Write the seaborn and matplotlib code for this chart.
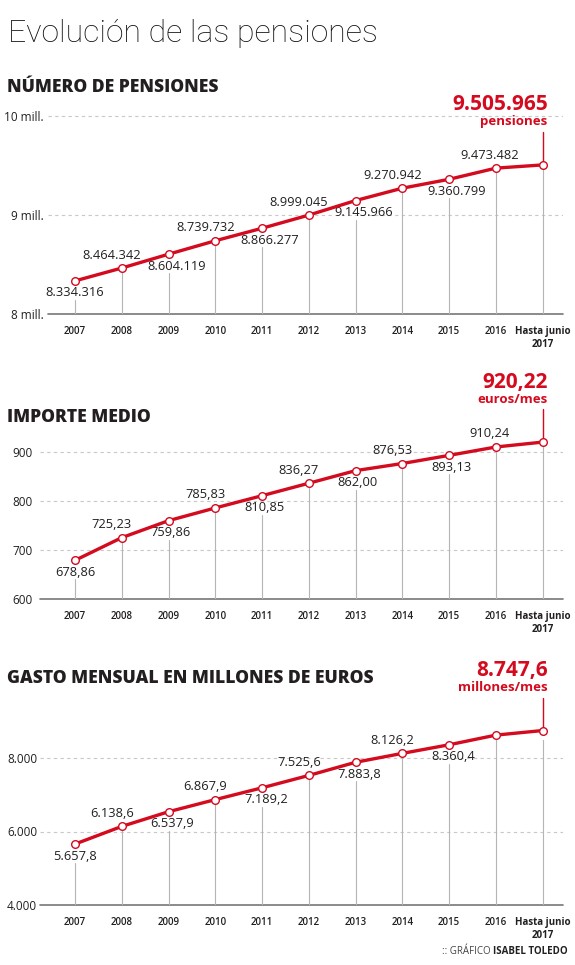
import numpy as np
import pandas as pd
import seaborn as sns
import matplotlib.pyplot as plt

# ---- datos ----
years = ["2007", "2008", "2009", "2010", "2011", "2012", "2013", "2014", "2015", "2016", "Hasta junio\n2017"]

pensiones = [8334316, 8464342, 8604119, 8739732, 8866277, 8999045, 9145966, 9270942, 9360799, 9473482, 9505965]
pensiones_lbl = ["8.334.316", "8.464.342", "8.604.119", "8.739.732", "8.866.277", "8.999.045",
                 "9.145.966", "9.270.942", "9.360.799", "9.473.482", "9.505.965"]

importe = [678.86, 725.23, 759.86, 785.83, 810.85, 836.27, 862.00, 876.53, 893.13, 910.24, 920.22]
importe_lbl = ["678,86", "725,23", "759,86", "785,83", "810,85", "836,27",
               "862,00", "876,53", "893,13", "910,24", "920,22"]

gasto = [5657.8, 6138.6, 6537.9, 6867.9, 7189.2, 7525.6, 7883.8, 8126.2, 8360.4, 8623.2, 8747.6]
gasto_lbl = ["5.657,8", "6.138,6", "6.537,9", "6.867,9", "7.189,2", "7.525,6",
             "7.883,8", "8.126,2", "8.360,4", "8.623,2", "8.747,6"]

RED = "#d40a1e"
DARK = "#231f20"
W, H = 575, 965
PX = 0.72  # px -> pt at 100 dpi

sns.set_theme(style="white")
plt.rcParams["font.family"] = ["Open Sans", "DejaVu Sans"]
NARROW = ["Liberation Sans Narrow", "Open Sans", "DejaVu Sans"]

fig = plt.figure(figsize=(W / 100, H / 100), dpi=100)
fig.patch.set_facecolor("white")


def px_axes(left, right, top, bottom):
    return fig.add_axes([left / W, 1 - bottom / H, (right - left) / W, (bottom - top) / H])


def draw_panel(ax, values, labels, yticks, yticklabels, ylim, x0, big, unit, ypad, shift_below):
    df = pd.DataFrame({"pos": np.arange(len(values)), "valor": values})
    ax.set_xlim(x0, 10.434)
    ax.set_ylim(*ylim)
    ax_h = ax.get_position().height * H
    dpp = (ylim[1] - ylim[0]) / ax_h  # data per pixel

    for t in yticks[1:]:
        ax.axhline(t, color="#c8c8c8", lw=0.8, ls=(0, (3, 3)), zorder=0)
    ax.axhline(ylim[0], color="#777777", lw=1.2, zorder=1, clip_on=False)

    for i, v in enumerate(values):
        below = (i % 2 == 0) and i < 10
        top = v - 19 * dpp if below else v
        ax.plot([i, i], [ylim[0], top], color="#b5b5b5", lw=0.8, zorder=1)
        if i < 10:
            if below:
                dx, dy = (0 if i == 0 else shift_below), -12
            else:
                dx, dy = (-6 if i == 9 else -10), 13
            ax.annotate(labels[i], (i, v), xytext=(dx * PX, dy * PX),
                        textcoords="offset points", ha="center", va="center",
                        fontsize=9.3, color=DARK)

    ax.plot([10, 10], [values[-1], values[-1] + 33 * dpp], color=RED, lw=1, clip_on=False, zorder=2)
    ax.annotate(big, (10, values[-1]), xytext=(5 * PX, 60 * PX), textcoords="offset points",
                ha="right", va="center", fontsize=15, fontweight="bold", color=RED,
                family=NARROW, annotation_clip=False)
    ax.annotate(unit, (10, values[-1]), xytext=(5 * PX, 43 * PX), textcoords="offset points",
                ha="right", va="center", fontsize=9.5, fontweight="bold", color=RED,
                family=NARROW, annotation_clip=False)

    sns.lineplot(data=df, x="pos", y="valor", ax=ax, color=RED, lw=2.4, marker="o",
                 markersize=5.5, markerfacecolor="white", markeredgecolor=RED,
                 markeredgewidth=1, zorder=3, clip_on=False)

    ax.set_yticks(yticks, yticklabels)
    ax.set_xticks(np.arange(len(years)), years)
    ax.tick_params(axis="y", length=0, pad=ypad, labelsize=8.5, labelcolor=DARK)
    ax.tick_params(axis="x", length=0, pad=12 * PX, labelsize=7, labelcolor=DARK)
    for lab in ax.get_xticklabels():
        lab.set_family(NARROW)
        lab.set_fontweight("semibold")
    ax.get_xticklabels()[-1].set_fontweight("bold")
    ax.set_xlabel("")
    ax.set_ylabel("")
    sns.despine(ax=ax, left=True, bottom=True)
    ax.set_facecolor("none")


ax1 = px_axes(48, 563, 100, 314)
draw_panel(ax1, pensiones, pensiones_lbl, [8e6, 9e6, 10e6], ["8 mill.", "9 mill.", "10 mill."],
           (8e6, 8e6 + 214 / 99 * 1e6), -0.577, "9.505.965", "pensiones", 3, 8)

ax2 = px_axes(40, 563, 440, 599)
draw_panel(ax2, importe, importe_lbl, [600, 700, 800, 900], ["600", "700", "800", "900"],
           (600, 600 + 159 / 0.49), -0.748, "920,22", "euros/mes", 5, 2)

ax3 = px_axes(40, 563, 740, 905)
draw_panel(ax3, gasto, gasto_lbl, [4000, 6000, 8000], ["4.000", "6.000", "8.000"],
           (4000, 4000 + 165 / 0.03675), -0.748, "8.747,6", "millones/mes", 2, 4)

# ---- textos ----
fig.text(8 / W, 1 - 42 / H, "Evolución de las pensiones", fontsize=23, family=["Roboto", "Open Sans"],
         fontweight="light", color="#111111", va="baseline")
for txt, yb in [("NÚMERO DE PENSIONES", 92), ("IMPORTE MEDIO", 422),
                ("GASTO MENSUAL EN MILLONES DE EUROS", 683)]:
    fig.text(7 / W, 1 - yb / H, txt, fontsize=12.6, fontweight="heavy", family=NARROW,
             color=DARK, va="baseline")

cred = fig.text(568 / W, 1 - 952 / H, "ISABEL TOLEDO", fontsize=7, fontweight="bold",
                color=DARK, ha="right", va="center")
plt.annotate(":: GRÁFICO ", xy=(0, 0.5), xycoords=cred, ha="right", va="center",
             fontsize=7, color="#444444")

fig.savefig("out.png", dpi=100)
